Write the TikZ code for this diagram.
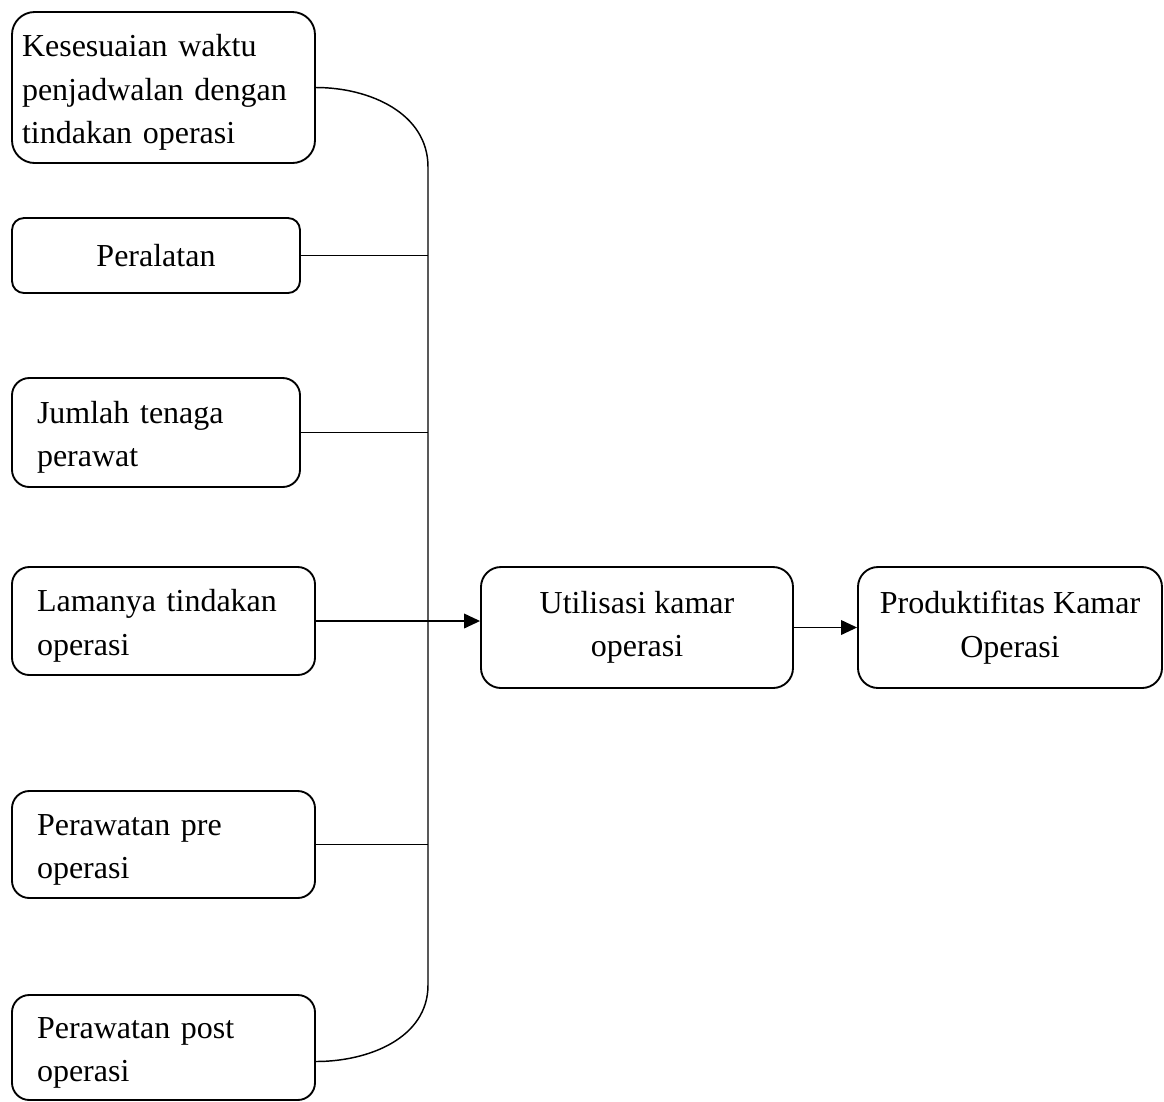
\documentclass[tikz,border=0pt]{standalone}
\usepackage{fontspec}
\setmainfont{Liberation Serif}
\usetikzlibrary{arrows.meta}
\usetikzlibrary{positioning}

\tikzset{
  box/.style={draw, line width=1.4pt, inner ysep=0pt},
  factor/.style={box, align=left, inner xsep=18.75pt, text width=#1,
    execute at begin node=\rule{0pt}{1em}},
  result/.style={box, align=center, minimum width=#1, minimum height=90.75pt, rounded corners=15pt,
    execute at begin node=\rule{0pt}{1em}},
  link/.style={line width=1.1pt},
  flow/.style={link, -{Triangle[length=12pt,width=11pt]}}
}

\begin{document}
\begin{tikzpicture}[x=0.75pt, y=-0.75pt, font=\fontsize{24}{32.5}\selectfont]
      \useasboundingbox (0,0) rectangle (1164,1101);

      % factors on the left
      \node[factor=212.25pt, inner xsep=7.5pt, minimum height=113.25pt, rounded corners=17pt]
        (kesesuaian) at (163.5,87.5) {Kesesuaian waktu\\penjadwalan dengan\\tindakan operasi};
      \node[box, align=center, minimum width=216pt, minimum height=56.25pt, rounded corners=9pt]
        (peralatan) at (156,255.5) {Peralatan};
      \node[factor=178.5pt, minimum height=81.75pt, rounded corners=13pt]
        (jumlah) at (156,432.5) {Jumlah tenaga\\perawat};
      \node[factor=189.75pt, minimum height=81pt, rounded corners=13pt]
        (lamanya) at (163.5,621) {Lamanya tindakan\\operasi};
      \node[factor=189.75pt, minimum height=80.25pt, rounded corners=13pt]
        (pre) at (163.5,844.5) {Perawatan pre\\operasi};
      \node[factor=189.75pt, minimum height=78.75pt, rounded corners=13pt]
        (post) at (163.5,1047.5) {Perawatan post\\operasi};

      % results
      \node[result=234pt] (utilisasi) at (637,627.5) {Utilisasi kamar\\operasi};
      \node[result=228pt] (produktif) at (1010,627.5) {Produktifitas Kamar\\Operasi};

      \coordinate (bustop) at (428,167);
      \coordinate (busbot) at (428,985);

      \draw[link] (kesesuaian.east) to[out=0, in=90] (bustop) -- (busbot)
        to[out=-90, in=0] ([yshift=-10.5pt]post.east);
      \draw[link] (peralatan.east) -- (peralatan.east -| bustop);
      \draw[link] (jumlah.east) -- (jumlah.east -| bustop);
      \draw[link] (pre.east) -- (pre.east -| bustop);

      \draw[flow] (lamanya.east) -- (lamanya.east -| utilisasi.west);
      \draw[flow] (utilisasi.east) -- (produktif.west);
\end{tikzpicture}
\end{document}
